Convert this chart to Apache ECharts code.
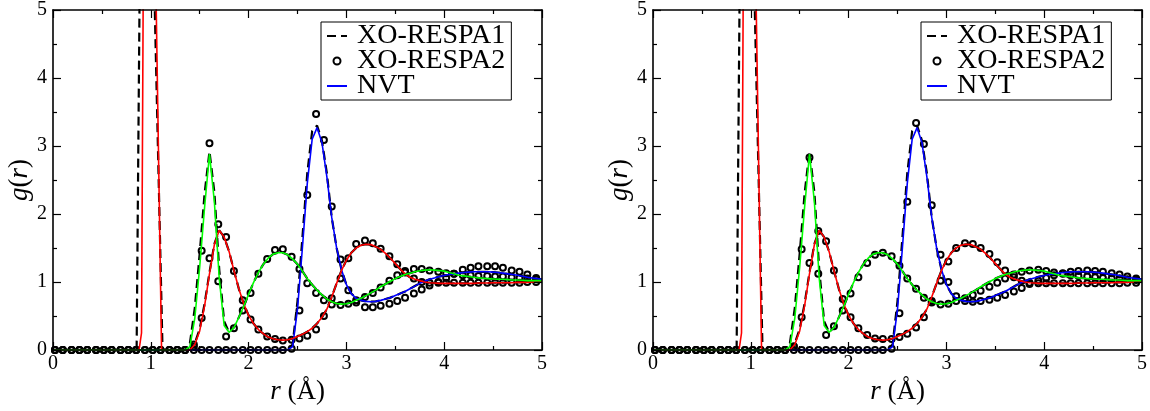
<!DOCTYPE html>
<html>
<head>
<meta charset="utf-8">
<title>g(r)</title>
<script src="https://cdn.jsdelivr.net/npm/echarts@6/dist/echarts.min.js"></script>
<style>
  html, body { margin: 0; background: #fff; }
  #chart { width: 1150px; height: 411px; }
</style>
</head>
<body>
<div id="chart"></div>
<script>
// r grid of the solid (NVT) and dashed (XO-RESPA1) curves, in Å
const rLine = [
  1.35, 1.40, 1.45, 1.50, 1.55, 1.60, 1.65, 1.70, 1.75, 1.80,
  1.85, 1.90, 1.95, 2.00, 2.05, 2.10, 2.15, 2.20, 2.25, 2.30,
  2.35, 2.40, 2.45, 2.50, 2.55, 2.60, 2.65, 2.70, 2.75, 2.80,
  2.85, 2.90, 2.95, 3.00, 3.05, 3.10, 3.15, 3.20, 3.25, 3.30,
  3.35, 3.40, 3.45, 3.50, 3.55, 3.60, 3.65, 3.70, 3.75, 3.80,
  3.85, 3.90, 3.95, 4.00, 4.05, 4.10, 4.15, 4.20, 4.25, 4.30,
  4.35, 4.40, 4.45, 4.50, 4.55, 4.60, 4.65, 4.70, 4.75, 4.80,
  4.85, 4.90, 4.95, 5.00
]

// intramolecular O-H peak, runs off the top of the axis ([r, g])
const ohPeakNVT = [[0, 0], [0.88, 0], [0.905, 0.25], [0.925, 6], [1.045, 6], [1.11, 0]]
const ohPeakRespa1 = [[0, 0], [0.855, 0], [0.89, 6], [1.025, 6], [1.12, 0]]

// red pair (O-H)
const ohNVT = [
  0, 0, 0.08, 0.28, 0.65, 1.12, 1.55, 1.76, 1.66, 1.45,
  1.17, 0.90, 0.68, 0.51, 0.39, 0.30, 0.24, 0.19, 0.165, 0.15,
  0.145, 0.15, 0.17, 0.20, 0.23, 0.27, 0.32, 0.39, 0.48, 0.60,
  0.78, 0.98, 1.17, 1.32, 1.43, 1.50, 1.54, 1.555, 1.55, 1.52,
  1.48, 1.42, 1.35, 1.27, 1.19, 1.12, 1.07, 1.04, 1.02, 1.00,
  0.99, 0.985, 0.98, 0.98, 0.98, 0.98, 0.98, 0.98, 0.98, 0.98,
  0.985, 0.985, 0.985, 0.99, 0.99, 0.99, 0.99, 0.99, 0.995, 0.995,
  0.995, 1.0, 1.0, 1.0
]
const ohRespa1 = [
  0, 0, 0.10, 0.31, 0.68, 1.14, 1.56, 1.76, 1.66, 1.45,
  1.17, 0.90, 0.68, 0.51, 0.39, 0.30, 0.24, 0.19, 0.165, 0.15,
  0.145, 0.15, 0.17, 0.20, 0.23, 0.27, 0.32, 0.39, 0.48, 0.60,
  0.78, 0.98, 1.17, 1.32, 1.43, 1.50, 1.54, 1.555, 1.55, 1.52,
  1.48, 1.42, 1.35, 1.27, 1.19, 1.12, 1.07, 1.04, 1.02, 1.00,
  0.99, 0.985, 0.98, 0.98, 0.98, 0.98, 0.98, 0.98, 0.98, 0.98,
  0.985, 0.985, 0.985, 0.99, 0.99, 0.99, 0.99, 0.99, 0.995, 0.995,
  0.995, 1.0, 1.0, 1.0
]

// green pair (H-H)
const hhNVT = [
  0, 0.05, 0.47, 1.22, 2.10, 2.88, 2.18, 1.05, 0.36, 0.26,
  0.33, 0.48, 0.64, 0.82, 0.99, 1.14, 1.26, 1.35, 1.41, 1.43,
  1.43, 1.40, 1.34, 1.26, 1.16, 1.05, 0.96, 0.88, 0.81, 0.75,
  0.71, 0.685, 0.675, 0.68, 0.70, 0.73, 0.76, 0.80, 0.84, 0.88,
  0.93, 0.97, 1.01, 1.05, 1.08, 1.11, 1.13, 1.15, 1.165, 1.175,
  1.18, 1.175, 1.17, 1.16, 1.14, 1.12, 1.10, 1.09, 1.08, 1.07,
  1.06, 1.055, 1.05, 1.045, 1.04, 1.04, 1.035, 1.03, 1.03, 1.025,
  1.02, 1.02, 1.02, 1.02
]
const hhRespa1 = [
  0, 0.10, 0.62, 1.42, 2.30, 2.92, 2.32, 1.18, 0.42, 0.26,
  0.33, 0.48, 0.64, 0.82, 0.99, 1.14, 1.26, 1.35, 1.41, 1.43,
  1.43, 1.40, 1.34, 1.26, 1.16, 1.05, 0.96, 0.88, 0.81, 0.75,
  0.71, 0.685, 0.675, 0.68, 0.70, 0.73, 0.76, 0.80, 0.84, 0.88,
  0.93, 0.97, 1.01, 1.05, 1.08, 1.11, 1.13, 1.15, 1.165, 1.175,
  1.18, 1.175, 1.17, 1.16, 1.14, 1.12, 1.10, 1.09, 1.08, 1.07,
  1.06, 1.055, 1.05, 1.045, 1.04, 1.04, 1.035, 1.03, 1.03, 1.025,
  1.02, 1.02, 1.02, 1.02
]

// blue pair (O-O)
const ooNVT = [
  0, 0, 0, 0, 0, 0, 0, 0, 0, 0,
  0, 0, 0, 0, 0, 0, 0, 0, 0, 0,
  0, 0, 0.05, 0.60, 1.50, 2.45, 3.10, 3.27, 3.05, 2.55,
  1.95, 1.50, 1.18, 0.96, 0.83, 0.76, 0.73, 0.715, 0.71, 0.715,
  0.73, 0.75, 0.77, 0.80, 0.83, 0.86, 0.90, 0.94, 0.98, 1.01,
  1.04, 1.06, 1.08, 1.095, 1.11, 1.12, 1.13, 1.14, 1.145, 1.15,
  1.15, 1.15, 1.15, 1.145, 1.14, 1.13, 1.12, 1.11, 1.10, 1.085,
  1.07, 1.06, 1.05, 1.04
]
const ooRespa1 = [
  0, 0, 0, 0, 0, 0, 0, 0, 0, 0,
  0, 0, 0, 0, 0, 0, 0, 0, 0, 0,
  0, 0, 0.08, 0.72, 1.65, 2.60, 3.22, 3.30, 3.08, 2.60,
  1.95, 1.50, 1.18, 0.96, 0.83, 0.76, 0.73, 0.715, 0.71, 0.715,
  0.73, 0.75, 0.77, 0.80, 0.83, 0.86, 0.90, 0.94, 0.98, 1.01,
  1.04, 1.06, 1.08, 1.095, 1.11, 1.12, 1.13, 1.14, 1.145, 1.15,
  1.15, 1.15, 1.15, 1.145, 1.14, 1.13, 1.12, 1.11, 1.10, 1.085,
  1.07, 1.06, 1.05, 1.04
]

// r grid of the XO-RESPA2 circles
const rDots = [
  0.02, 0.10, 0.19, 0.27, 0.35, 0.44, 0.52, 0.60, 0.69, 0.77,
  0.85, 0.94, 1.02, 1.10, 1.19, 1.27, 1.35, 1.44, 1.52, 1.60,
  1.69, 1.77, 1.85, 1.94, 2.02, 2.10, 2.19, 2.27, 2.35, 2.44,
  2.52, 2.60, 2.69, 2.77, 2.85, 2.94, 3.02, 3.10, 3.19, 3.27,
  3.35, 3.44, 3.52, 3.60, 3.69, 3.77, 3.85, 3.94, 4.02, 4.10,
  4.19, 4.27, 4.35, 4.44, 4.52, 4.60, 4.69, 4.77, 4.85, 4.94
]

// XO-RESPA2, left panel (9 = off the top)
const ohDotsL = [
  0, 0, 0, 0, 0, 0, 0, 0, 0, 0,
  0, 9, 9, 0, 0, 0, 0, 0.05, 0.47, 1.35,
  1.85, 1.66, 1.16, 0.73, 0.45, 0.30, 0.20, 0.16, 0.14, 0.15,
  0.17, 0.21, 0.30, 0.50, 0.76, 1.05, 1.35, 1.56, 1.61, 1.57,
  1.49, 1.38, 1.26, 1.14, 1.05, 1.00, 0.99, 0.99, 0.99, 0.99,
  0.99, 0.99, 0.99, 0.99, 0.99, 0.99, 0.99, 0.99, 1.0, 1.0
]
const hhDotsL = [
  0, 0, 0, 0, 0, 0, 0, 0, 0, 0,
  0, 0, 0, 0, 0, 0, 0, 0.08, 1.46, 3.04,
  1.01, 0.20, 0.32, 0.58, 0.84, 1.12, 1.34, 1.47, 1.48, 1.37,
  1.19, 0.98, 0.84, 0.73, 0.67, 0.66, 0.68, 0.73, 0.78, 0.84,
  0.92, 1.02, 1.10, 1.16, 1.19, 1.19, 1.17, 1.15, 1.13, 1.12,
  1.10, 1.10, 1.09, 1.09, 1.08, 1.08, 1.07, 1.06, 1.05, 1.04
]
const ooDotsL = [
  0, 0, 0, 0, 0, 0, 0, 0, 0, 0,
  0, 0, 0, 0, 0, 0, 0, 0, 0, 0,
  0, 0, 0, 0, 0, 0, 0, 0, 0, 0.02,
  0.58, 2.28, 3.47, 3.09, 2.11, 1.33, 0.88, 0.70, 0.63, 0.63,
  0.65, 0.68, 0.72, 0.77, 0.83, 0.89, 0.95, 1.00, 1.06, 1.12,
  1.18, 1.21, 1.23, 1.23, 1.23, 1.21, 1.17, 1.15, 1.11, 1.06
]

// XO-RESPA2, right panel
const ohDotsR = [
  0, 0, 0, 0, 0, 0, 0, 0, 0, 0,
  0, 9, 9, 0, 0, 0, 0, 0.05, 0.48, 1.28,
  1.75, 1.60, 1.17, 0.75, 0.48, 0.32, 0.22, 0.17, 0.16, 0.16,
  0.19, 0.24, 0.33, 0.48, 0.72, 1.02, 1.30, 1.50, 1.57, 1.56,
  1.50, 1.41, 1.29, 1.17, 1.07, 1.02, 0.99, 0.98, 0.98, 0.98,
  0.98, 0.98, 0.98, 0.98, 0.98, 0.98, 0.98, 0.98, 0.99, 0.99
]
const hhDotsR = [
  0, 0, 0, 0, 0, 0, 0, 0, 0, 0,
  0, 0, 0, 0, 0, 0, 0, 0.05, 1.48, 2.83,
  1.12, 0.22, 0.35, 0.58, 0.83, 1.07, 1.28, 1.40, 1.43, 1.38,
  1.24, 1.05, 0.90, 0.77, 0.70, 0.67, 0.68, 0.72, 0.76, 0.81,
  0.87, 0.93, 0.99, 1.05, 1.11, 1.15, 1.17, 1.18, 1.16, 1.14,
  1.12, 1.10, 1.09, 1.08, 1.07, 1.06, 1.05, 1.05, 1.04, 1.03
]
const ooDotsR = [
  0, 0, 0, 0, 0, 0, 0, 0, 0, 0,
  0, 0, 0, 0, 0, 0, 0, 0, 0, 0,
  0, 0, 0, 0, 0, 0, 0, 0, 0, 0.02,
  0.54, 2.18, 3.34, 3.03, 2.13, 1.40, 1.00, 0.79, 0.72, 0.71,
  0.72, 0.74, 0.77, 0.81, 0.86, 0.91, 0.97, 1.02, 1.06, 1.10,
  1.13, 1.15, 1.16, 1.17, 1.16, 1.15, 1.13, 1.11, 1.08, 1.05
]

const xTicks = [0, 1, 2, 3, 4, 5]
const yTicks = [0, 1, 2, 3, 4, 5]

const FONT = 'Liberation Serif'
const zip = (xs, ys) => xs.map((x, i) => [x, ys[i]])

const curves = [
  { color: '#0000ff', nvt: [[0, 0]].concat(zip(rLine, ooNVT)), respa1: [[0, 0]].concat(zip(rLine, ooRespa1)) },
  { color: '#ff0000', nvt: ohPeakNVT.concat(zip(rLine, ohNVT)), respa1: ohPeakRespa1.concat(zip(rLine, ohRespa1)) },
  { color: '#00ff00', nvt: [[0, 0]].concat(zip(rLine, hhNVT)), respa1: [[0, 0]].concat(zip(rLine, hhRespa1)) }
]
const panels = [
  { left: 53, dots: [ooDotsL, ohDotsL, hhDotsL] },
  { left: 653, dots: [ooDotsR, ohDotsR, hhDotsR] }
]

// axes sit above the curves, like the frame in the original plot
const tickStyle = {
  z: 10,
  axisLine: { onZero: false, lineStyle: { color: '#000', width: 1.6 } },
  axisTick: { inside: true, length: 8, lineStyle: { color: '#000', width: 1.2 } },
  minorTick: { show: true, splitNumber: 2, length: 4, lineStyle: { color: '#000', width: 1.2 } },
  splitLine: { show: false }
}
const labelStyle = {
  fontFamily: FONT, fontSize: 20, color: '#000',
  formatter: '{n|{value}}',
  rich: { n: { fontFamily: FONT, fontSize: 20, color: '#000' } }
}
const nameStyle = {
  fontFamily: FONT, fontSize: 27, color: '#000',
  rich: { i: { fontFamily: FONT, fontSize: 27, fontStyle: 'italic', color: '#000' } }
}
const noDot = { color: 'rgba(0,0,0,0)', borderWidth: 0 }

const grids = []
const xAxes = []
const yAxes = []
const series = []
const legends = []

panels.forEach((p, pi) => {
  grids.push({ left: p.left, top: 8, width: 489, height: 342 })
  xAxes.push(Object.assign({
    gridIndex: pi, type: 'value', position: 'bottom',
    min: xTicks[0], max: xTicks[xTicks.length - 1], interval: 1,
    name: '{i|r} (Å)', nameLocation: 'middle', nameGap: 25, nameTextStyle: nameStyle,
    axisLabel: Object.assign({ margin: 4 }, labelStyle)
  }, tickStyle))
  xAxes.push(Object.assign({
    gridIndex: pi, type: 'value', position: 'top',
    min: xTicks[0], max: xTicks[xTicks.length - 1], interval: 1,
    axisLabel: { show: false }
  }, tickStyle))
  yAxes.push(Object.assign({
    gridIndex: pi, type: 'value', position: 'left',
    min: yTicks[0], max: yTicks[yTicks.length - 1], interval: 1,
    name: '{i|g}({i|r})', nameLocation: 'middle', nameRotate: 90, nameGap: 16, nameTextStyle: nameStyle,
    axisLabel: Object.assign({ margin: 6 }, labelStyle)
  }, tickStyle))
  yAxes.push(Object.assign({
    gridIndex: pi, type: 'value', position: 'right',
    min: yTicks[0], max: yTicks[yTicks.length - 1], interval: 1,
    axisLabel: { show: false }
  }, tickStyle))

  const ax = { xAxisIndex: pi * 2, yAxisIndex: pi * 2 }
  curves.forEach((c, ci) => {
    series.push(Object.assign({
      name: 'XO-RESPA1', type: 'line', data: c.respa1, symbol: 'none', z: 2,
      lineStyle: { color: '#000', width: 2.2, type: [9, 5] }, itemStyle: { color: '#000' }
    }, ax))
    series.push(Object.assign({
      name: 'XO-RESPA2', type: 'scatter', data: zip(rDots, p.dots[ci]), symbol: 'circle', symbolSize: 6, z: 3,
      itemStyle: { color: 'rgba(255,255,255,0)', borderColor: '#000', borderWidth: 2, opacity: 1 }
    }, ax))
    series.push(Object.assign({
      name: 'NVT', type: 'line', data: c.nvt, symbol: 'none', z: 4,
      lineStyle: { color: c.color, width: 1.6 }, itemStyle: { color: c.color }
    }, ax))
  })

  legends.push({
    left: p.left + 268, top: 22, orient: 'vertical', selectedMode: false, z: 12,
    data: [
      { name: 'XO-RESPA1', itemStyle: noDot },
      { name: 'XO-RESPA2' },
      { name: 'NVT', itemStyle: noDot }
    ],
    itemWidth: 20, itemHeight: 7, itemGap: -3,
    padding: [0, 6, 0, 5],
    borderColor: '#000', borderWidth: 1, backgroundColor: '#fff',
    textStyle: { fontFamily: FONT, fontSize: 28, color: '#000', padding: [0, 0, 0, 5] }
  })
})

const chart = echarts.init(document.getElementById('chart'))
chart.setOption({
  backgroundColor: '#fff',
  animation: false,
  textStyle: { fontFamily: FONT },
  grid: grids,
  xAxis: xAxes,
  yAxis: yAxes,
  legend: legends,
  series: series
})
</script>
</body>
</html>
